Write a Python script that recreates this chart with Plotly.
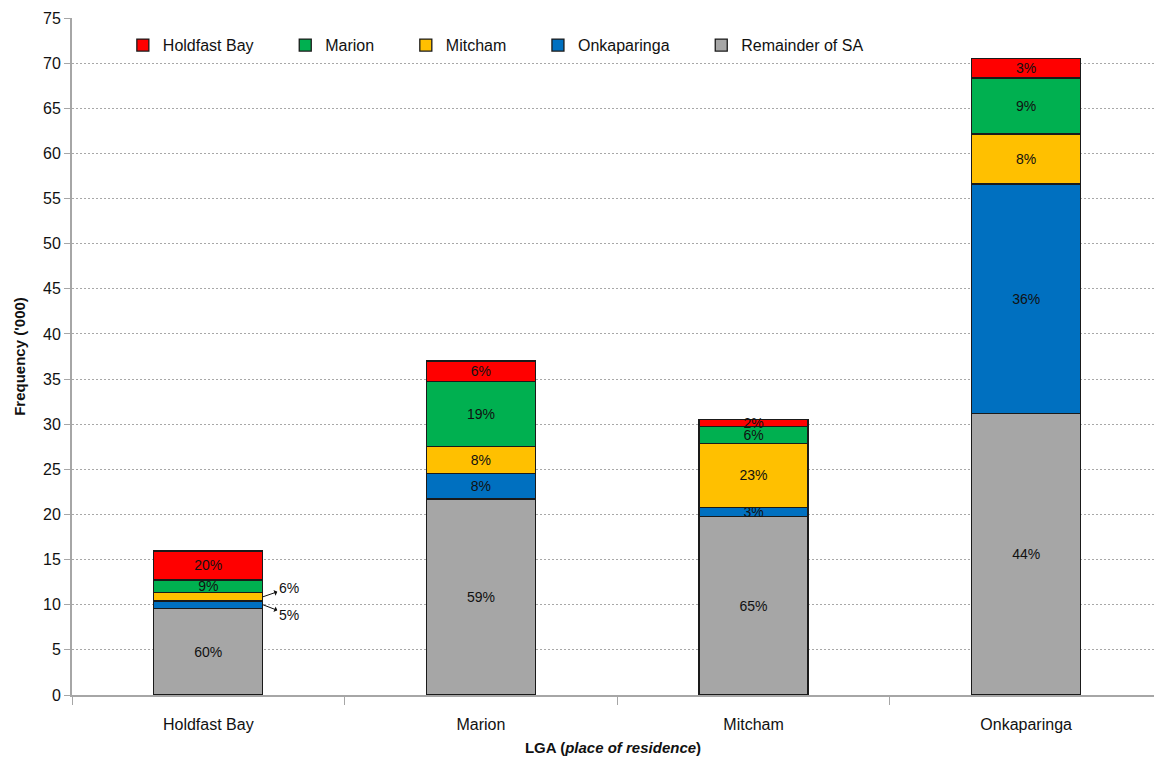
import plotly.graph_objects as go

# LGA of residence (x categories)
lgas = ["Holdfast Bay", "Marion", "Mitcham", "Onkaparinga"]

# Frequency ('000) by LGA of service, stacked bottom to top
remainder_sa = [9.6, 21.7, 19.8, 31.2]
onkaparinga = [0.8, 2.85, 1.0, 25.4]
mitcham = [0.95, 3.0, 7.05, 5.55]
marion = [1.4, 7.15, 1.9, 6.2]
holdfast_bay = [3.2, 2.3, 0.75, 2.2]

series = [
    ("Remainder of SA", remainder_sa, "#A6A6A6"),
    ("Onkaparinga", onkaparinga, "#0070C0"),
    ("Mitcham", mitcham, "#FFC000"),
    ("Marion", marion, "#00B050"),
    ("Holdfast Bay", holdfast_bay, "#FF0000"),
]

totals = [sum(s[1][i] for s in series) for i in range(len(lgas))]

NARROW = "Liberation Sans Narrow, Arial Narrow, Liberation Sans, Arial, sans-serif"
REGULAR = "Liberation Sans, Arial, sans-serif"

# segments whose share is written beside the bar with an arrow
outside_labels = {("Onkaparinga", 0), ("Mitcham", 0)}

# extra room after each legend entry
PAD = "\u00a0" * 6

fig = go.Figure()
for name, vals, color in series:
    texts = []
    for i, v in enumerate(vals):
        pct = f"{round(100 * v / totals[i])}%"
        texts.append("" if (name, i) in outside_labels else pct)
    fig.add_trace(go.Bar(
        name=name + PAD,
        x=lgas,
        y=vals,
        width=0.4,
        marker=dict(color=color, line=dict(color="#1a1a1a", width=1.3)),
        text=texts,
        textposition="inside",
        insidetextanchor="middle",
        textangle=0,
        constraintext="none",
        textfont=dict(family=NARROW, size=14, color="#111111"),
        hoverinfo="skip",
    ))

# arrowed labels for the thin Holdfast Bay segments
hb_blue_mid = remainder_sa[0] + onkaparinga[0] / 2
hb_yellow_mid = remainder_sa[0] + onkaparinga[0] + mitcham[0] / 2
for yv, pct, ay in [
    (hb_yellow_mid, round(100 * mitcham[0] / totals[0]), -9),
    (hb_blue_mid, round(100 * onkaparinga[0] / totals[0]), 10),
]:
    fig.add_annotation(
        x=0.2, y=yv, xref="x", yref="y",
        text=f"{pct}%", showarrow=True, arrowside="start",
        arrowhead=4, arrowsize=1.8, arrowwidth=1, arrowcolor="#111111",
        ax=26, ay=ay, standoff=0, startstandoff=0,
        font=dict(family=NARROW, size=14, color="#111111"),
    )

fig.update_layout(
    barmode="stack",
    width=1154, height=760,
    margin=dict(l=72, r=0, t=18, b=65),
    paper_bgcolor="white", plot_bgcolor="white",
    showlegend=True,
    legend=dict(
        orientation="h", traceorder="reversed",
        x=0.047, y=0.985, xanchor="left", yanchor="top",
        font=dict(family=NARROW, size=16, color="#111111"),
        bgcolor="rgba(0,0,0,0)",
        itemwidth=30,
    ),
    uniformtext=dict(minsize=14, mode="show"),
    xaxis=dict(
        type="category",
        range=[-0.5, 3.469],
        showline=True, linecolor="#A6A6A6", linewidth=2,
        ticks="outside", tickson="boundaries", ticklen=8, tickcolor="#A6A6A6",
        ticklabelstandoff=14,
        tickfont=dict(family=NARROW, size=16, color="#111111"),
        title=dict(text="<b>LGA (<i>place of residence</i>)</b>",
                   font=dict(family=NARROW, size=15, color="#111111"),
                   standoff=10),
        showgrid=False,
    ),
    yaxis=dict(
        range=[0, 75], dtick=5,
        showline=True, linecolor="#A6A6A6", linewidth=2,
        ticks="outside", ticklen=6, tickcolor="#A6A6A6",
        tickfont=dict(family=REGULAR, size=16, color="#111111"),
        showgrid=True, gridcolor="#A8A8A8", gridwidth=1, griddash="2px,2px",
        zeroline=False,
        title=dict(text="<b>Frequency ('000)</b>",
                   font=dict(family=NARROW, size=15, color="#111111"),
                   standoff=14),
    ),
)

fig.write_html("out.html")
